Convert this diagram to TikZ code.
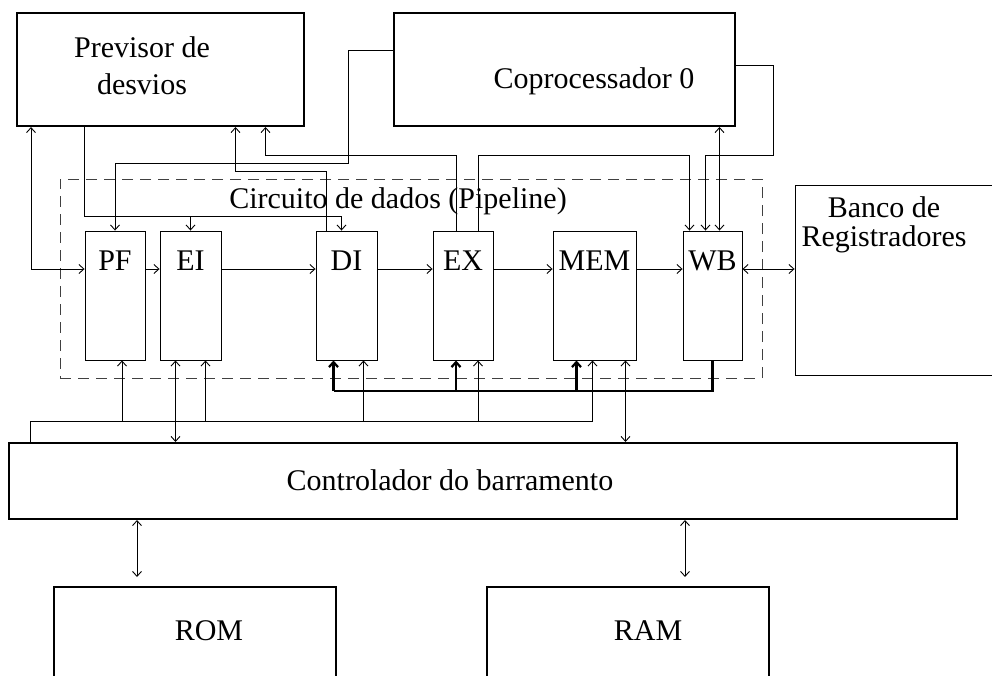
\documentclass[tikz,border=0pt]{standalone}
\usepackage{fontspec}
\setmainfont{Liberation Serif}
\usetikzlibrary{arrows.meta}

\tikzset{
  >={Straight Barb[length=5pt,width=9pt]},
  every node/.style={font=\fontsize{30}{36}\selectfont},
  blk/.style={draw, line width=2pt, inner sep=0pt},
  stage/.style={draw, line width=0.9pt, inner xsep=0pt, inner ysep=10pt,
    text height=29pt, text depth=80pt},
  wire/.style={line width=0.9pt},
  bus/.style={line width=2.2pt},
}

\begin{document}
\begin{tikzpicture}[x=1pt, y=-1pt]
    \useasboundingbox (0,0) rectangle (992,675);
    \clip (0,0) rectangle (992,675);

    % Levels of the wiring
    \coordinate (row) at (0,269);
    \coordinate (exlvl) at (0,155);
    \coordinate (coplvl) at (0,163);
    \coordinate (dilvl) at (0,171);
    \coordinate (prvlvl) at (0,216);
    \coordinate (thinbus) at (0,421);
    \coordinate (thickbus) at (0,391);

    % Pipeline frame
    \node[draw, black!75, line width=0.9pt, dash pattern=on 11pt off 7pt,
      inner sep=0pt, minimum width=702pt, minimum height=199pt] (pipe) at (411,278.5) {};
    \node[anchor=base] (pipetxt) at (398,208) {Circuito de dados (Pipeline)};

    % Outer blocks
    \node[blk, minimum width=287pt, minimum height=113pt] (prev) at (160.5,69.5) {};
    \node[align=center] (prevtxt) at (142,66) {Previsor de\\[1pt]desvios};
    \node[blk, minimum width=341pt, minimum height=113pt] (cop) at (564.5,69.5) {};
    \node[anchor=base] (coptxt) at (594,88) {Coprocessador 0};
    \node[draw, line width=0.9pt, inner sep=0pt, minimum width=215pt,
      minimum height=190pt] (banco) at (902.5,280) {};
    \node[align=center] (bancotxt) at (884,224.5) {Banco de\\[-7pt]Registradores};
    \node[blk, minimum width=948pt, minimum height=76pt] (ctrl) at (483,481) {};
    \node[anchor=base] (ctrltxt) at (450,490) {Controlador do barramento};
    \node[blk, minimum width=282pt, minimum height=123pt] (rom) at (195,648.5) {};
    \node[anchor=base] (romtxt) at (209,640) {ROM};
    \node[blk, minimum width=282pt, minimum height=123pt] (ram) at (628,648.5) {};
    \node[anchor=base] (ramtxt) at (648,640) {RAM};

    % Pipeline stages
    \foreach \n/\t/\x/\w in {pf/PF/115/60pt, ei/EI/190.5/61pt, di/DI/346.5/61pt,
                             ex/EX/463/60pt, mem/MEM/594.5/83pt, wb/WB/712.5/59pt}
        \node[stage, minimum width=\w] (\n) at (\x,295.5) {\t};

    \foreach \a/\b in {pf/ei, ei/di, di/ex, ex/mem, mem/wb}
        \draw[wire, ->] (\a.east |- row) -- (\b.west |- row);
    \draw[wire, <->] (wb.east |- row) -- (banco.west |- row);

    % Wiring above the pipeline
    \draw[wire, <->] ([xshift=15pt]prev.south west) |- (pf.west |- row);
    \draw[wire, ->] ([xshift=68pt]prev.south west) |- ([xshift=-5pt]di.north |- prvlvl)
        -- ([xshift=-5pt]di.north);
    \draw[wire, ->] (ei.north |- prvlvl) -- (ei.north);
    \draw[wire, ->] ([yshift=19.5pt]cop.west) -| ([xshift=-45pt]cop.west |- coplvl) -| (pf.north);
    \draw[wire, ->] ([xshift=-20pt]di.north) |- ([xshift=75pt]prev.south |- dilvl)
        -- ([xshift=75pt]prev.south);
    \draw[wire, ->] ([xshift=-7pt]ex.north) |- ([xshift=105pt]prev.south |- exlvl)
        -- ([xshift=105pt]prev.south);
    \draw[wire, ->] ([xshift=15pt]ex.north) |- ([xshift=-23pt]wb.north |- exlvl)
        -- ([xshift=-23pt]wb.north);
    \draw[wire, ->] ([yshift=4.5pt]cop.east) -| ([xshift=37pt]cop.east |- exlvl)
        -| ([xshift=-7pt]wb.north);
    \draw[wire, <->] ([xshift=7pt]wb.north |- cop.south) -- ([xshift=7pt]wb.north);

    % Buses below the pipeline
    \draw[wire] ([xshift=22pt]ctrl.north west) |- ([xshift=-2pt]mem.south |- thinbus);
    \foreach \n/\d in {pf/7pt, ei/15pt, di/17pt, ex/15pt, mem/-2pt}
        \draw[wire, ->] ([xshift=\d]\n.south |- thinbus) -- ([xshift=\d]\n.south);
    \draw[bus] (wb.south) |- ([xshift=-13pt]di.south |- thickbus);
    \foreach \n/\d in {di/-13pt, ex/-7pt, mem/-18pt}
        \draw[bus, ->] ([xshift=\d]\n.south |- thickbus) -- ([xshift=\d]\n.south);

    % Links to the bus controller
    \draw[wire, <->] ([xshift=-15pt]ei.south) -- ([xshift=-15pt]ei.south |- ctrl.north);
    \draw[wire, <->] ([xshift=31pt]mem.south) -- ([xshift=31pt]mem.south |- ctrl.north);
    \draw[wire, <->] ([xshift=-58pt]rom.north |- ctrl.south) -- ([xshift=-58pt, yshift=9pt]rom.north);
    \draw[wire, <->] ([xshift=57pt]ram.north |- ctrl.south) -- ([xshift=57pt, yshift=9pt]ram.north);
\end{tikzpicture}
\end{document}
